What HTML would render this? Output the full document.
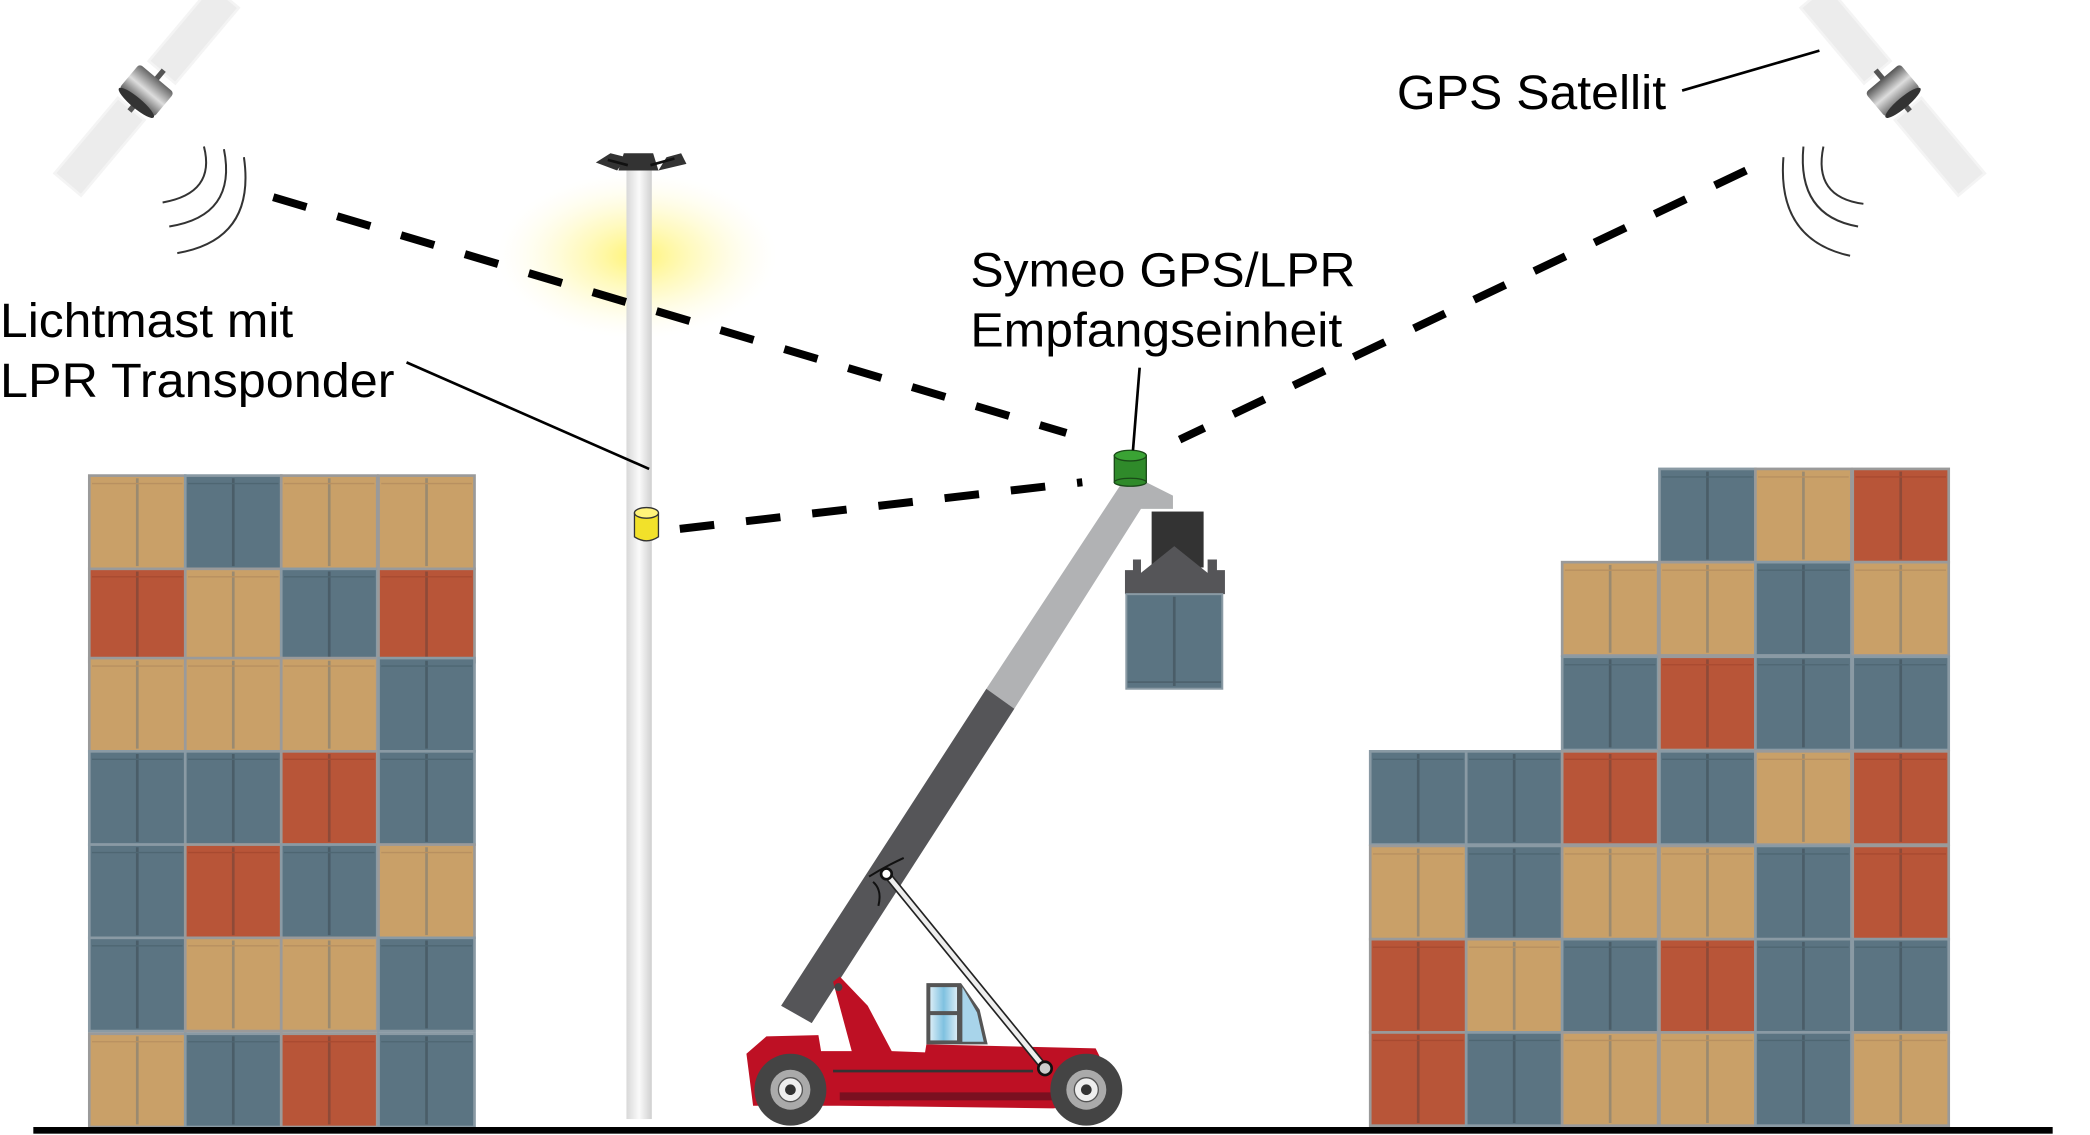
<!DOCTYPE html>
<html><head><meta charset="utf-8"><style>
html,body{margin:0;padding:0;background:#fff;}
svg{display:block;}
text{font-family:"Liberation Sans",Arial,sans-serif;fill:#000;}
</style></head><body>
<svg width="2090" height="1135" viewBox="0 0 1568 852" preserveAspectRatio="none" xmlns="http://www.w3.org/2000/svg">
<defs>
<radialGradient id="glow" cx="0.5" cy="0.5" r="0.5">
<stop offset="0" stop-color="#fff36a" stop-opacity="0.95"/>
<stop offset="0.5" stop-color="#fff7a0" stop-opacity="0.5"/>
<stop offset="1" stop-color="#fffbe0" stop-opacity="0"/>
</radialGradient>
<linearGradient id="pole" x1="0" x2="1">
<stop offset="0" stop-color="#d8d8d8"/><stop offset="0.5" stop-color="#fafafa"/><stop offset="1" stop-color="#d0d0d0"/>
</linearGradient>
<linearGradient id="cyl" x1="0" x2="1">
<stop offset="0" stop-color="#555"/><stop offset="0.5" stop-color="#ddd"/><stop offset="1" stop-color="#666"/>
</linearGradient>
<linearGradient id="glass" x1="0" x2="1">
<stop offset="0" stop-color="#d8ecf6"/><stop offset="0.5" stop-color="#7fc1e0"/><stop offset="1" stop-color="#d8ecf6"/>
</linearGradient>
<g id="cT"><rect width="72" height="70" fill="#c9a068" stroke="#9a9a9a" stroke-width="2"/><line x1="36" y1="2" x2="36" y2="68" stroke="#9a8a70" stroke-width="2"/><line x1="2" y1="6" x2="70" y2="6" stroke="#b89060" stroke-width="1"/></g>
<g id="cB"><rect width="72" height="70" fill="#5b7482" stroke="#8a9aa4" stroke-width="2"/><line x1="36" y1="2" x2="36" y2="68" stroke="#4a5d68" stroke-width="2"/><line x1="2" y1="6" x2="70" y2="6" stroke="#4e6672" stroke-width="1"/></g>
<g id="cR"><rect width="72" height="70" fill="#b85538" stroke="#9a9a9a" stroke-width="2"/><line x1="36" y1="2" x2="36" y2="68" stroke="#8e4a38" stroke-width="2"/><line x1="2" y1="6" x2="70" y2="6" stroke="#a84a30" stroke-width="1"/></g>
</defs>

<ellipse cx="478" cy="192" rx="105" ry="62" fill="url(#glow)"/>

<g>
<use href="#cT" x="67" y="357"/><use href="#cB" x="139" y="357"/><use href="#cT" x="211" y="357"/><use href="#cT" x="284" y="357"/>
<use href="#cR" x="67" y="427"/><use href="#cT" x="139" y="427"/><use href="#cB" x="211" y="427"/><use href="#cR" x="284" y="427"/>
<use href="#cT" x="67" y="494"/><use href="#cT" x="139" y="494"/><use href="#cT" x="211" y="494"/><use href="#cB" x="284" y="494"/>
<use href="#cB" x="67" y="564"/><use href="#cB" x="139" y="564"/><use href="#cR" x="211" y="564"/><use href="#cB" x="284" y="564"/>
<use href="#cB" x="67" y="634"/><use href="#cR" x="139" y="634"/><use href="#cB" x="211" y="634"/><use href="#cT" x="284" y="634"/>
<use href="#cB" x="67" y="704"/><use href="#cT" x="139" y="704"/><use href="#cT" x="211" y="704"/><use href="#cB" x="284" y="704"/>
<use href="#cT" x="67" y="776"/><use href="#cB" x="139" y="776"/><use href="#cR" x="211" y="776"/><use href="#cB" x="284" y="776"/>
</g>

<g>
<use href="#cB" x="1245" y="352"/><use href="#cT" x="1317" y="352"/><use href="#cR" x="1390" y="352"/>
<use href="#cT" x="1172" y="422"/><use href="#cT" x="1245" y="422"/><use href="#cB" x="1317" y="422"/><use href="#cT" x="1390" y="422"/>
<use href="#cB" x="1172" y="493"/><use href="#cR" x="1245" y="493"/><use href="#cB" x="1317" y="493"/><use href="#cB" x="1390" y="493"/>
<use href="#cB" x="1028" y="564"/><use href="#cB" x="1100" y="564"/><use href="#cR" x="1172" y="564"/><use href="#cB" x="1245" y="564"/><use href="#cT" x="1317" y="564"/><use href="#cR" x="1390" y="564"/>
<use href="#cT" x="1028" y="635"/><use href="#cB" x="1100" y="635"/><use href="#cT" x="1172" y="635"/><use href="#cT" x="1245" y="635"/><use href="#cB" x="1317" y="635"/><use href="#cR" x="1390" y="635"/>
<use href="#cR" x="1028" y="705"/><use href="#cT" x="1100" y="705"/><use href="#cB" x="1172" y="705"/><use href="#cR" x="1245" y="705"/><use href="#cB" x="1317" y="705"/><use href="#cB" x="1390" y="705"/>
<use href="#cR" x="1028" y="775"/><use href="#cB" x="1100" y="775"/><use href="#cT" x="1172" y="775"/><use href="#cT" x="1245" y="775"/><use href="#cB" x="1317" y="775"/><use href="#cT" x="1390" y="775"/>
</g>

<rect x="470" y="125" width="19" height="715" fill="url(#pole)"/>
<path d="M447 122 L458 115 L470 118 L463 128 Z M468 115 L490 115 L494 128 L464 128 Z M500 118 L511 115 L515 123 L494 128 Z" fill="#333"/>
<path d="M456 120 L471 124 M488 124 L506 119" stroke="#111" stroke-width="2"/>
<path d="M476 385 Q485 379 494 385 L494 403 Q485 409 476 403 Z" fill="#f2e12a" stroke="#333" stroke-width="1"/>
<ellipse cx="485" cy="385" rx="9" ry="4" fill="#fff37a" stroke="#333" stroke-width="1"/>

<g stroke="#000" stroke-width="6" stroke-dasharray="26 24" fill="none">
<line x1="205" y1="148" x2="800" y2="325"/>
<line x1="510" y1="397" x2="812" y2="362"/>
<line x1="1310" y1="128" x2="885" y2="330"/>
</g>

<g transform="translate(110,68) rotate(-50)">
<rect x="-92" y="-13" width="74" height="26" fill="#ececec" stroke="#f4f4f4" stroke-width="2"/>
<rect x="18" y="-13" width="74" height="26" fill="#ececec" stroke="#f4f4f4" stroke-width="2"/>
<rect x="-20" y="-2" width="40" height="4" fill="#555"/>
<rect x="-12" y="-17" width="24" height="34" rx="3" fill="url(#cyl)"/>
<ellipse cx="-12" cy="0" rx="4" ry="17" fill="#333"/>
</g>
<g fill="none" stroke="#333" stroke-width="1.5">
<path d="M153 110 Q162 145 122 152"/>
<path d="M168 112 Q178 162 127 170"/>
<path d="M183 118 Q192 180 133 190"/>
</g>
<g transform="translate(1420,68) rotate(50)">
<rect x="-92" y="-13" width="74" height="26" fill="#ececec" stroke="#f4f4f4" stroke-width="2"/>
<rect x="18" y="-13" width="74" height="26" fill="#ececec" stroke="#f4f4f4" stroke-width="2"/>
<rect x="-20" y="-2" width="40" height="4" fill="#555"/>
<rect x="-12" y="-17" width="24" height="34" rx="3" fill="url(#cyl)"/>
<ellipse cx="12" cy="0" rx="4" ry="17" fill="#333"/>
</g>
<g fill="none" stroke="#333" stroke-width="1.5">
<path d="M1368 110 Q1360 148 1398 153"/>
<path d="M1353 110 Q1348 162 1394 170"/>
<path d="M1338 118 Q1333 180 1388 192"/>
</g>

<polygon points="740,517 761,532 856,382 880,382 880,372 860,362 842,362" fill="#b1b2b4"/>
<polygon points="586,755 609,768 761,532 740,517" fill="#555558"/>
<path d="M652 658 Q665 650 678 644 M655 662 Q662 668 659 680" stroke="#111" stroke-width="1.5" fill="none"/>
<rect x="864" y="384" width="39" height="42" fill="#333"/>
<path d="M844 428 L850 428 L850 420 L856 420 L856 430 L881 410 L906 430 L906 420 L913 420 L913 428 L919 428 L919 446 L844 446 Z" fill="#555558"/>
<rect x="845" y="446" width="72" height="71" fill="#5b7482" stroke="#8a9aa4" stroke-width="1.5"/>
<line x1="881" y1="448" x2="881" y2="515" stroke="#4a5d68" stroke-width="2"/>
<line x1="846" y1="512" x2="916" y2="512" stroke="#4a5d68" stroke-width="1"/>
<rect x="836" y="342" width="24" height="20" fill="#2f8a2a" stroke="#1a4a18" stroke-width="1"/>
<ellipse cx="848" cy="342" rx="12" ry="4" fill="#3aa334" stroke="#1a4a18" stroke-width="1"/>
<ellipse cx="848" cy="362" rx="12" ry="3" fill="#2f8a2a" stroke="#1a4a18" stroke-width="1"/>

<polygon points="560,791 575,778 614,777 616,789 639,789 625,737 630,733 651,755 669,789 694,790 695,784 822,787 826,795 840,810 840,827 790,832 630,830 565,830" fill="#be1024"/>
<rect x="630" y="820" width="160" height="6" fill="#7a1020"/>
<rect x="625" y="803" width="150" height="2" fill="#333"/>
<circle cx="629" cy="741" r="3" fill="#444"/>
<polygon points="695,738 721,738 735,758 741,784 695,784" fill="#555"/>
<rect x="698" y="741" width="20" height="18" fill="url(#glass)"/>
<rect x="698" y="762" width="20" height="19" fill="url(#glass)"/>
<polygon points="722,741 733,760 738,782 722,782" fill="#a8d4ea"/>
<line x1="665" y1="656" x2="784" y2="802" stroke="#222" stroke-width="6"/>
<line x1="665" y1="656" x2="784" y2="802" stroke="#eee" stroke-width="3.5"/>
<circle cx="665" cy="656" r="4" fill="#fff" stroke="#111" stroke-width="2"/>
<circle cx="784" cy="802" r="5" fill="#ccc" stroke="#111" stroke-width="2"/>
<g>
<circle cx="593" cy="818" r="27" fill="#444"/><circle cx="593" cy="818" r="15" fill="#aaa"/><circle cx="593" cy="818" r="9" fill="#eee" stroke="#555"/><circle cx="593" cy="818" r="4" fill="#333"/>
<circle cx="815" cy="818" r="27" fill="#444"/><circle cx="815" cy="818" r="15" fill="#aaa"/><circle cx="815" cy="818" r="9" fill="#eee" stroke="#555"/><circle cx="815" cy="818" r="4" fill="#333"/>
</g>

<rect x="25" y="846" width="1515" height="5" fill="#000"/>

<g font-size="36">
<text x="0" y="253" textLength="220" lengthAdjust="spacingAndGlyphs">Lichtmast mit</text>
<text x="0" y="298" textLength="296" lengthAdjust="spacingAndGlyphs">LPR Transponder</text>
<text x="728" y="215" textLength="289" lengthAdjust="spacingAndGlyphs">Symeo GPS/LPR</text>
<text x="728" y="260" textLength="279" lengthAdjust="spacingAndGlyphs">Empfangseinheit</text>
<text x="1048" y="82" textLength="202" lengthAdjust="spacingAndGlyphs">GPS Satellit</text>
</g>
<g stroke="#000" stroke-width="2">
<line x1="305" y1="272" x2="487" y2="352"/>
<line x1="855" y1="276" x2="850" y2="338"/>
<line x1="1262" y1="68" x2="1365" y2="38"/>
</g>
</svg>
</body></html>
